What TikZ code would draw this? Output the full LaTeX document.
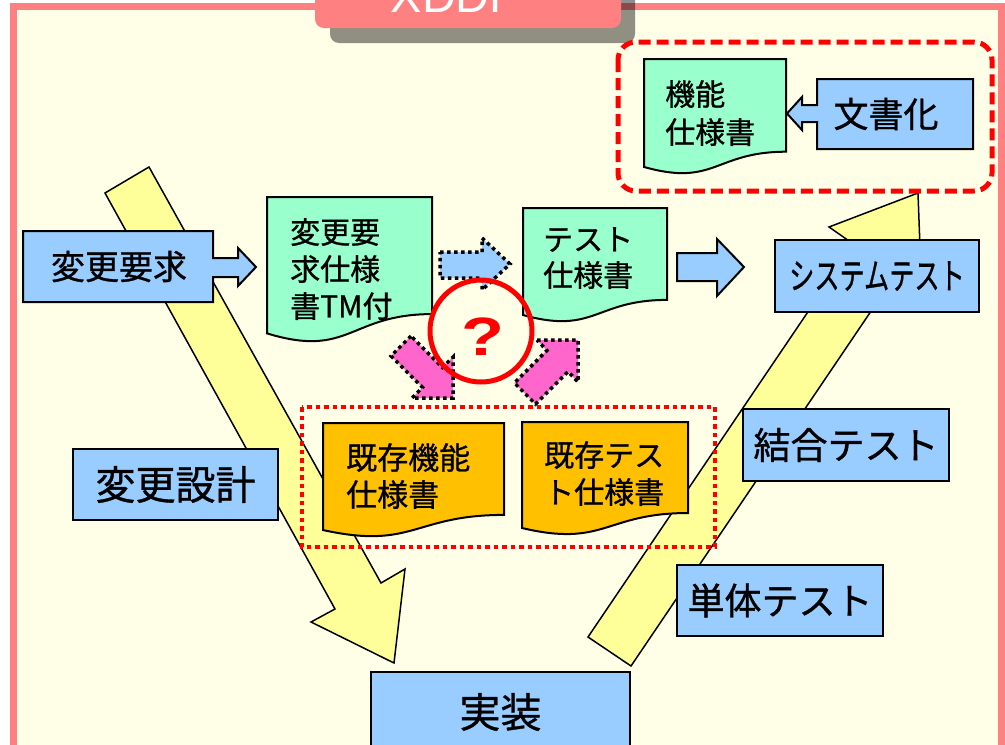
\documentclass[tikz,border=0pt]{standalone}
\usepackage{fontspec}
\setmainfont{Liberation Sans}
\newfontfamily\jp[FakeBold=0.9]{Noto Sans CJK JP}
\definecolor{bgcream}{HTML}{FFFFE8}
\definecolor{framepink}{HTML}{FF8080}
\definecolor{boxblue}{HTML}{99CCFF}
\definecolor{docgreen}{HTML}{99FFCC}
\definecolor{docorange}{HTML}{FFC000}
\definecolor{vyellow}{HTML}{FFFF99}
\definecolor{arrpink}{HTML}{FF66CC}
\newcommand\docshp[5]{%
  \pgfmathsetmacro\dA{#2+0.802*#4}%
  \pgfmathsetmacro\dB{#2+1.1075*#4}%
  \pgfmathsetmacro\dC{#2+0.934*#4}%
  \pgfmathsetmacro\dM{(#1+#3)/2}%
  \draw[docline, fill=#5] (#1,#2) -- (#3,#2) -- (#3,\dA) .. controls (\dM,\dA) and (\dM,\dB) .. (#1,\dC) -- cycle;}
\begin{document}
\begin{tikzpicture}[x=1pt,y=-1pt,
  bluebox/.style={draw=black, line width=2pt, fill=boxblue, inner sep=0pt},
  docline/.style={draw=black, line width=2pt},
  blockarr/.style={draw=black, line width=2pt, fill=boxblue, line join=miter},
  dotarr/.style={draw=black, line width=3.5pt, dash pattern=on 3.5pt off 3.5pt},
  varrow/.style={draw=black, line width=1.5pt, fill=vyellow, line join=miter},
  doctext/.style={anchor=north west, inner sep=0pt, align=left, text=black},
  boxtext/.style={inner sep=0pt, text=black}]
\useasboundingbox (0,0) rectangle (1005,745);
\clip (0,0) rectangle (1005,745);
\fill[white] (0,0) rectangle (1005,745);
\fill[bgcream] (13.5,6.5) rectangle (1001.5,760);
\draw[framepink, line width=7pt] (13.5,6.5) rectangle (1001.5,760);
% title tab
\fill[black, opacity=0.44, rounded corners=9pt] (330,-40) rectangle (635,43);
\fill[framepink, rounded corners=9pt] (315,-40) rectangle (621,28);
\node[text=white, anchor=base, inner sep=0pt, font=\fontsize{47}{47}\selectfont] (title) at (456,12) {XDDP};

% V-shaped yellow arrows
\draw[varrow] (105,193) -- (149,167) -- (381,583) -- (405,569) -- (394,663) -- (311,622) -- (335,609) -- cycle;
\draw[varrow] (588,637) -- (853.7,244.2) -- (829,227) -- (918,193) -- (921.6,290.1) -- (896.7,273.2) -- (631,666) -- cycle;

% top-right dashed group
\draw[red, line width=5pt, dash pattern=on 12pt off 6pt, rounded corners=18pt] (618,42) rectangle (992,191);
\docshp{644}{59}{786}{115.6}{docgreen}
\node[doctext, font=\jp\fontsize{30}{38}\selectfont] (funcspec) at (665,80) {機能\\仕様書};
\draw[blockarr] (973,79) -- (973,149) -- (817,149) -- (817,122) -- (802,122) -- (802,130) -- (787,113.5) -- (802,97) -- (802,105) -- (817,105) -- (817,79) -- cycle;
\node[boxtext, font=\jp\fontsize{35}{35}\selectfont] (docu) at (886,114) {文書化};

% change request
\draw[blockarr] (23,231) -- (213,231) -- (213,258) -- (238,258) -- (238,248) -- (256,267) -- (238,286) -- (238,277) -- (213,277) -- (213,302) -- (23,302) -- cycle;
\node[boxtext, font=\jp\fontsize{34}{34}\selectfont] (req) at (119,266.5) {変更要求};

\docshp{267}{197}{432}{146}{docgreen}
\node[doctext, font=\jp\fontsize{30}{37}\selectfont] (reqspec) at (290,218) {変更要\\求仕様\\書TM付};

% dotted blue arrow
\draw[dotarr, fill=boxblue] (440,252) -- (482,252) -- (482,238) -- (510,264) -- (482,290) -- (482,278) -- (440,278) -- cycle;

\docshp{523}{208}{667}{114.6}{docgreen}
\node[doctext, font=\jp\fontsize{30}{36}\selectfont] (testspec) at (543,227) {テスト\\仕様書};

% arrow to system test
\draw[blockarr] (677,253) -- (717,253) -- (717,239) -- (744,267) -- (717,296) -- (717,281) -- (677,281) -- cycle;

\node[bluebox, minimum width=204pt, minimum height=72pt] (systest) at (877,276) {};
\node[boxtext, font=\jp\fontsize{36}{36}\selectfont] (systestl) at (systest.center) {\scalebox{0.7}[1]{システムテスト}};
\node[bluebox, minimum width=206pt, minimum height=72pt, font=\jp\fontsize{37}{37}\selectfont] (inttest) at (846,445) {結合テスト};
\node[bluebox, minimum width=206pt, minimum height=71pt, font=\jp\fontsize{37}{37}\selectfont] (unittest) at (780,600.5) {単体テスト};
\node[bluebox, minimum width=259pt, minimum height=80pt, font=\jp\fontsize{41}{41}\selectfont] (impl) at (500.5,712) {実装};
\node[bluebox, minimum width=205pt, minimum height=71pt, font=\jp\fontsize{40}{40}\selectfont] (design) at (175.5,484.5) {変更設計};

% existing specs group
\draw[red, line width=4.5pt, dash pattern=on 4.5pt off 4pt] (302,407) rectangle (715,547);
\docshp{323}{423}{504}{114.6}{docorange}
\node[doctext, font=\jp\fontsize{31}{37}\selectfont] (exfunc) at (346,443) {既存機能\\仕様書};
\docshp{522}{422}{688}{113.5}{docorange}
\node[doctext, font=\jp\fontsize{30}{37}\selectfont] (extest) at (544,441) {既存テス\\ト仕様書};

% pink dotted arrows
\draw[dotarr, fill=arrpink] (411,336) -- (391,356) -- (422.6,387.4) -- (412,398) -- (453,398) -- (453,357) -- (442.4,367.6) -- cycle;
\draw[dotarr, fill=arrpink] (537,340) -- (578,340) -- (578,382) -- (568.1,371.6) -- (535.6,404.1) -- (514.4,382.9) -- (546.9,350.4) -- cycle;

% question circle
\node[draw=red, line width=5pt, circle, minimum size=102pt, inner sep=0pt] (q) at (481,331) {};
\node[text=red, inner sep=0pt, font=\bfseries\fontsize{54}{54}\selectfont] (qmark) at (482.5,337) {\scalebox{1.3}[1]{?}};
\end{tikzpicture}
\end{document}
